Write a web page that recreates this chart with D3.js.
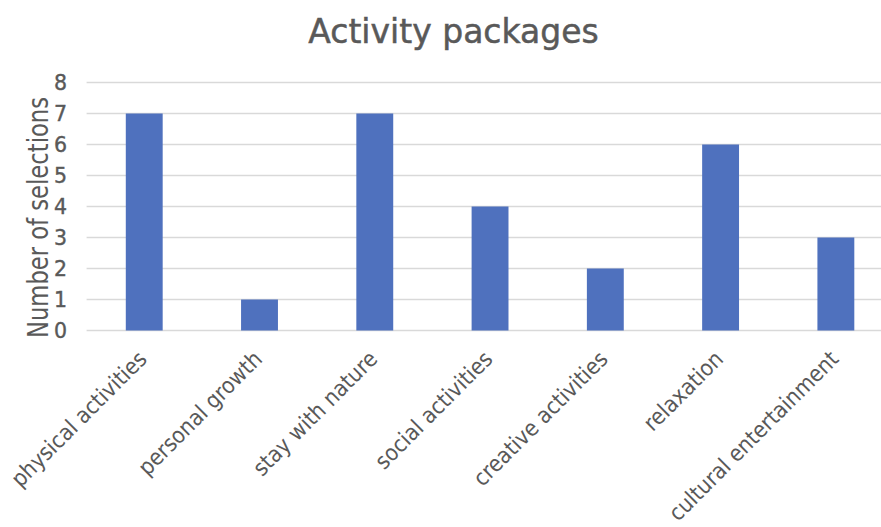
<!DOCTYPE html>
<html>
<head>
<meta charset="utf-8">
<script src="https://cdn.jsdelivr.net/npm/d3@7"></script>
<style>
  html, body { margin: 0; padding: 0; background: #fff; }
  svg { display: block; }
</style>
</head>
<body>
<svg id="chart" width="881" height="527"></svg>
<script>
// Activity package selections
const categories = [
  "physical activities",
  "personal growth",
  "stay with nature",
  "social activities",
  "creative activities",
  "relaxation",
  "cultural entertainment"
];
const selections = [7, 1, 7, 4, 2, 6, 3];
const yTicks = [0, 1, 2, 3, 4, 5, 6, 7, 8];

const W = 881;
const plotLeft = 86.6, plotRight = 893.5;
const textColor = "#595959";
const font = "'DejaVu Sans', sans-serif";
const condensed = "'DejaVu Sans Condensed', 'DejaVu Sans', sans-serif";

const svg = d3.select("#chart");

const x = d3.scaleBand()
  .domain(categories)
  .range([plotLeft, plotRight])
  .paddingInner(0.68)
  .paddingOuter(0.34);

const y = d3.scaleLinear()
  .domain([0, 8])
  .range([330.5, 82.5]);

// Horizontal gridlines
svg.append("g")
  .selectAll("line")
  .data(yTicks)
  .join("line")
  .attr("x1", plotLeft)
  .attr("x2", W)
  .attr("y1", d => y(d))
  .attr("y2", d => y(d))
  .attr("stroke", "#d9d9d9")
  .attr("stroke-width", 1.3);

// Bars
svg.append("g")
  .selectAll("rect")
  .data(categories)
  .join("rect")
  .attr("x", d => x(d))
  .attr("width", x.bandwidth())
  .attr("y", (d, i) => y(selections[i]))
  .attr("height", (d, i) => y(0) - y(selections[i]))
  .attr("fill", "#4f71be");

// Y axis tick labels
const yAxis = d3.axisLeft(y).tickValues(yTicks).tickSize(0).tickPadding(0);
const yg = svg.append("g")
  .attr("transform", "translate(67,0)")
  .call(yAxis);
yg.select(".domain").remove();
yg.selectAll("text")
  .attr("fill", textColor)
  .attr("stroke", textColor)
  .attr("stroke-width", 0.4)
  .style("font-family", font)
  .style("font-size", "20.5px");

// X axis category labels, slanted
const xAxis = d3.axisBottom(x).tickSize(0).tickPadding(0);
const xg = svg.append("g")
  .attr("transform", `translate(0,${y(0)})`)
  .call(xAxis);
xg.select(".domain").remove();
xg.selectAll("text")
  .attr("fill", textColor)
  .style("font-family", condensed)
  .style("font-stretch", "condensed")
  .style("font-size", "22.5px")
  .attr("text-anchor", "end")
  .attr("dy", null)
  .attr("y", 0)
  .attr("transform", "translate(4,30) rotate(-45)");

// Y axis title
svg.append("text")
  .attr("transform", "translate(48,217.5) rotate(-90)")
  .attr("text-anchor", "middle")
  .attr("fill", textColor)
  .style("font-family", condensed)
  .style("font-stretch", "condensed")
  .style("font-size", "28px")
  .attr("textLength", 241)
  .attr("lengthAdjust", "spacingAndGlyphs")
  .text("Number of selections");

// Chart title
svg.append("text")
  .attr("x", 453.5)
  .attr("y", 42.7)
  .attr("text-anchor", "middle")
  .attr("fill", textColor)
  .attr("stroke", textColor)
  .attr("stroke-width", 0.5)
  .style("font-family", font)
  .style("font-size", "33px")
  .text("Activity packages");
</script>
</body>
</html>
